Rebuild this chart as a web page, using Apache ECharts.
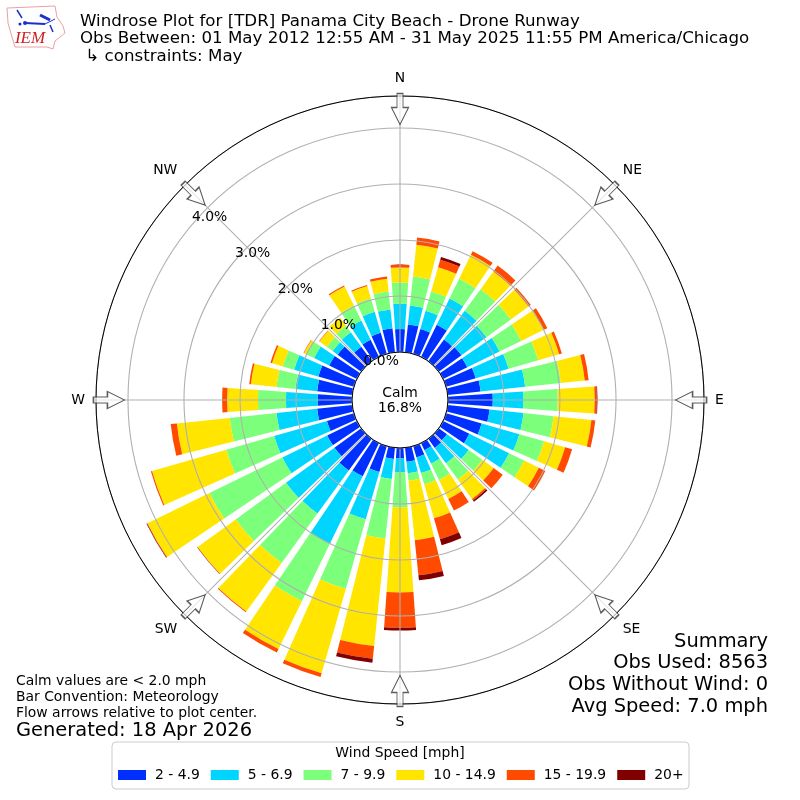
<!DOCTYPE html>
<html><head><meta charset="utf-8">
<style>html,body{margin:0;padding:0;background:#fff}#c{width:800px;height:800px}</style>
<script src="https://cdn.jsdelivr.net/npm/echarts@6/dist/echarts.min.js"></script>
</head><body><div id="c"></div>
<script>
const directions = [0,10,20,30,40,50,60,70,80,90,100,110,120,130,140,150,160,170,180,190,200,210,220,230,240,250,260,270,280,290,300,310,320,330,340,350];
const speedNames = ['2 - 4.9','5 - 6.9','7 - 9.9','10 - 14.9','15 - 19.9','20+'];
const speedColors = ['#0030ff','#00d5ff','#7cff7a','#ffe500','#ff4a00','#800000'];
const s1 = [.41,.50,.46,.64,.48,.50,.48,.55,.59,.80,.75,.66,.52,.18,.20,.14,.21,.25,.18,.20,.48,.66,.70,.59,.59,.50,.63,.61,.63,.66,.55,.52,.32,.34,.39,.43];
const s2 = [.45,.34,.34,.52,.63,.55,.64,.61,.80,.55,.61,.70,.79,.48,.34,.27,.29,.21,.25,.36,.88,1.34,.95,1.07,.89,.98,.73,.57,.39,.45,.30,.11,.32,.38,.39,.34];
const s3 = [.38,.52,.36,.39,.48,.54,.43,.55,.64,.61,.54,.46,.30,.30,.36,.32,.21,.13,.63,1.07,1.29,1.14,1.09,1.11,1.45,.89,.84,.50,.34,.21,.16,.13,.14,.30,.25,.32];
const s4 = [.27,.57,.45,.48,.39,.39,.45,.39,.43,.66,.68,.39,.29,.25,.43,.38,.63,1.07,1.52,1.93,1.57,.95,1.07,.84,1.23,1.38,.95,.55,.46,.20,.04,.16,.18,.38,.23,.23];
const s5 = [.05,.13,.14,.07,.13,.05,.07,.05,.07,.04,.07,.13,.13,.20,.03,.23,.39,.63,.63,.23,.07,.07,.015,.005,.01,.02,.11,.09,.03,.03,.01,.01,0,.02,.02,.04];
const s6 = [0,0,.05,0,0,0,0,0,0,.01,0,0,0,0,.03,0,.11,.09,.05,.07,0,0,0,.005,.01,0,0,0,0,0,0,0,0,0,0,0];
const speedSeries = [s1,s2,s3,s4,s5,s6];
const radiusTicks = [0,1,2,3,4];
const radiusMax = 4.571;
const compassValues = [0,45,90,135,180,225,270,315];
const compassLabels = ['N','NE','E','SE','S','SW','W','NW'];
const arrowRadius = 4.34;
const titleLines = ['Windrose Plot for [TDR] Panama City Beach - Drone Runway','Obs Between: 01 May 2012 12:55 AM - 31 May 2025 11:55 PM America/Chicago',' \u21b3 constraints: May'];
const summaryLines = ['Summary','Obs Used: 8563','Obs Without Wind: 0','Avg Speed: 7.0 mph'];
const noteLines = ['Calm values are < 2.0 mph','Bar Convention: Meteorology','Flow arrows relative to plot center.'];

const FF = '"DejaVu Sans"';
const ARROW = 'path://M5.5 0H11.5V14H17L8.5 31L0 14H5.5Z';
const txt = (x,y,t,size,align,extra) => ({type:'text',z:20,x,y,style:Object.assign({text:t,font:size+'px '+FF,fill:'#000',textAlign:align||'left',textVerticalAlign:'middle'},extra||{})});
const line = (x1,y1,x2,y2,w) => ({type:'line',z:20,shape:{x1,y1,x2,y2},style:{stroke:'#1a2fd0',lineWidth:w}});

const graphic = [
  {type:'polygon',z:20,shape:{points:[[7,8],[55,6],[57,17],[63,26],[65,33],[55,41],[53,49],[47,47],[15,47],[12,37],[8,23]]},style:{fill:'#fff',stroke:'#eaa0a0',lineWidth:1}},
  line(25,23,45,24,2), line(17,10,22,18,1.5), line(40,15,50,20,3), line(45,24,55,19,1), line(50,25,53,32,1.5),
  {type:'circle',z:20,shape:{cx:25,cy:23,r:2},style:{fill:'#1a2fd0'}},
  {type:'circle',z:20,shape:{cx:20,cy:24,r:1.5},style:{fill:'#1a2fd0'}},
  {type:'text',z:20,x:30,y:39,style:{text:'IEM',font:'italic 17px "Liberation Serif"',fill:'#d02020',textAlign:'center',textVerticalAlign:'middle'}},
  txt(400,393,'Calm',13.9,'center'),
  txt(400,408,'16.8%',13.9,'center'),
  txt(400,753,'Wind Speed [mph]',13.9,'center')
];
titleLines.forEach((t,i)=>graphic.push(txt(80,[22,39,57][i],t,16.67)));
summaryLines.forEach((t,i)=>graphic.push(txt(768,[642,663,685,707][i],t,19.44,'right')));
noteLines.forEach((t,i)=>graphic.push(txt(16,[681,697,713][i],t,13.9)));
graphic.push(txt(16,731,'Generated: 18 Apr 2026',19.44));

const barSeries = speedNames.map((n,i)=>({
  name:n,type:'bar',coordinateSystem:'polar',polarIndex:0,stack:'wind',barCategoryGap:'20%',
  data:speedSeries[i],itemStyle:{color:speedColors[i]},z:2,silent:true,animation:false
}));

const option = {
  animation:false,
  textStyle:{fontFamily:FF},
  polar:[
    {center:[400,400],radius:[48,304]},
    {center:[400,400],radius:[48,304]},
    {center:[400,400],radius:[48,304]}
  ],
  angleAxis:[
    {polarIndex:0,type:'category',data:directions.map(String),startAngle:95,axisLine:{show:false},axisTick:{show:false},axisLabel:{show:false},splitLine:{show:false},z:5},
    {polarIndex:1,type:'value',min:0,max:360,interval:45,startAngle:90,z:5,
      axisLine:{show:true,lineStyle:{color:'#000',width:1}},axisTick:{show:false},
      axisLabel:{show:true,margin:11,color:'#000',fontSize:13.9,fontFamily:FF,formatter:v=>compassLabels[compassValues.indexOf(v)]||''},
      splitLine:{show:true,lineStyle:{color:'#b0b0b0',width:1.1}}},
    {polarIndex:2,type:'value',min:0,max:360,startAngle:140,axisLine:{show:false},axisTick:{show:false},axisLabel:{show:false},splitLine:{show:false}}
  ],
  radiusAxis:[
    {polarIndex:0,type:'value',min:0,max:radiusMax,interval:1,z:4,axisLine:{show:false},axisTick:{show:false},axisLabel:{show:false},
      splitLine:{show:true,lineStyle:{color:'#b0b0b0',width:1.1}}},
    {polarIndex:1,type:'value',min:0,max:radiusMax,interval:1,axisLine:{show:false},axisTick:{show:false},axisLabel:{show:false},splitLine:{show:false}},
    {polarIndex:2,type:'value',min:0,max:radiusMax,interval:1,z:7,axisLine:{show:false},axisTick:{show:false},splitLine:{show:false},
      axisLabel:{show:true,margin:0,align:'center',verticalAlign:'bottom',padding:[0,0,1,36],color:'#000',fontSize:13.9,fontFamily:FF,
        formatter:v=>radiusTicks.includes(v)?v.toFixed(1)+'%':''}}
  ],
  legend:{
    data:speedNames,left:112,top:742,orient:'horizontal',icon:'rect',itemWidth:28,itemHeight:10,itemGap:11,
    padding:[26,5.5,7,6],backgroundColor:'#fff',borderColor:'#ccc',borderWidth:1,borderRadius:4,
    textStyle:{color:'#000',fontSize:13.9,fontFamily:FF,padding:[0,0,0,4]},selectedMode:false
  },
  series:barSeries.concat([{
    type:'scatter',coordinateSystem:'polar',polarIndex:1,symbol:ARROW,symbolSize:[17,31],z:6,silent:true,
    data:compassValues.map(a=>({value:[arrowRadius,a],symbolRotate:-a})),
    itemStyle:{color:'rgba(255,255,255,0.85)',borderColor:'#333',borderWidth:1.2}
  }]),
  graphic
};
const chart = echarts.init(document.getElementById('c'),null,{renderer:'canvas'});
chart.setOption(option);
</script></body></html>
